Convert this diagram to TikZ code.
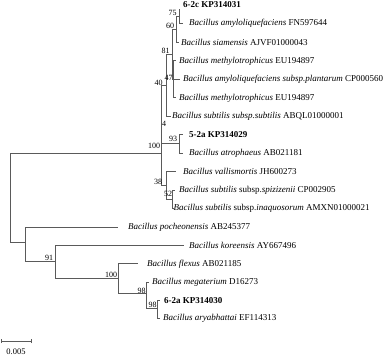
\documentclass[tikz,border=0pt]{standalone}
\usepackage{fontspec}
\setmainfont{Liberation Serif}
\definecolor{linegray}{HTML}{5A5A5A}
\begin{document}
\begin{tikzpicture}[x=1pt,y=-1pt,
  br/.style={draw=linegray, line width=0.8pt},
  lf/.style={anchor=west, inner sep=0pt, font=\fontsize{9}{10}\selectfont},
  bs/.style={inner sep=0pt, font=\fontsize{8}{9}\selectfont}]
\useasboundingbox (0,0) rectangle (387,356);
% internal nodes
\coordinate (root) at (10,197);
\coordinate (n100) at (161,153);
\coordinate (n4) at (161,114);
\coordinate (n40) at (166,85);
\coordinate (nx) at (172,54);
\coordinate (n60) at (176.5,29);
\coordinate (n75) at (179,16);
\coordinate (n47) at (173,79);
\coordinate (n93) at (179,143.5);
\coordinate (n38) at (166,185);
\coordinate (n52) at (172,199);
\coordinate (nb) at (25,242);
\coordinate (n91) at (55,261);
\coordinate (n100b) at (118,278);
\coordinate (n98a) at (146,293);
\coordinate (n98b) at (157,308);
% leaf branch ends
\coordinate (e1) at (180,9);
\coordinate (e2) at (183,23.5);
\coordinate (e3) at (178.5,42);
\coordinate (e4) at (176,60.5);
\coordinate (e5) at (180,79);
\coordinate (e6) at (176,97.5);
\coordinate (e7) at (171,116);
\coordinate (e8) at (183,134.5);
\coordinate (e9) at (183,153);
\coordinate (e10) at (176,171.5);
\coordinate (e11) at (175,190);
\coordinate (e12) at (173.5,208.5);
\coordinate (e13) at (118,227);
\coordinate (e14) at (184,245.5);
\coordinate (e15) at (138,263.5);
\coordinate (e16) at (149,282);
\coordinate (e17) at (159.5,300);
\coordinate (e18) at (160,318);
% leaf labels
\node[lf] (l1) at (183,5) {\textbf{6-2c KP314031}};
\node[lf] (l2) at (189,23.5) {\textit{Bacillus amyloliquefaciens} FN597644};
\node[lf] (l3) at (181,42.5) {\textit{Bacillus siamensis} AJVF01000043};
\node[lf] (l4) at (179,61) {\textit{Bacillus methylotrophicus} EU194897};
\node[lf] (l5) at (183,79.5) {\textit{Bacillus amyloliquefaciens subsp.plantarum} CP000560};
\node[lf] (l6) at (179,98) {\textit{Bacillus methylotrophicus} EU194897};
\node[lf] (l7) at (172,116.5) {\textit{Bacillus subtilis subsp.subtilis} ABQL01000001};
\node[lf] (l8) at (189,135) {\textbf{5-2a KP314029}};
\node[lf] (l9) at (189,153) {\textit{Bacillus atrophaeus} AB021181};
\node[lf] (l10) at (183,171.5) {\textit{Bacillus vallismortis} JH600273};
\node[lf] (l11) at (179,190) {\textit{Bacillus subtilis} subsp.\textit{spizizenii} CP002905};
\node[lf] (l12) at (173.5,208.5) {\textit{Bacillus subtilis} subsp.\textit{inaquosorum} AMXN01000021};
\node[lf] (l13) at (128,227) {\textit{Bacillus pocheonensis} AB245377};
\node[lf] (l14) at (189,245.5) {\textit{Bacillus koreensis} AY667496};
\node[lf] (l15) at (147,264) {\textit{Bacillus flexus} AB021185};
\node[lf] (l16) at (152,282) {\textit{Bacillus megaterium} D16273};
\node[lf] (l17) at (164,300.5) {\textbf{6-2a KP314030}};
\node[lf] (l18) at (163,318.5) {\textit{Bacillus aryabhattai} EF114313};
% branches
\draw[br] (root) |- (n100);
\draw[br] (root) |- (nb);
\draw[br] (n100) |- (n4);
\draw[br] (n100) |- (n38);
\draw[br] (n4) |- (n40);
\draw[br] (n4) |- (n93);
\draw[br] (n40) |- (nx);
\draw[br] (n40) |- (e7);
\draw[br] (nx) |- (n60);
\draw[br] (nx) |- (n47);
\draw[br] (n60) |- (n75);
\draw[br] (n60) |- (e3);
\draw[br] (n75) |- (e1);
\draw[br] (n75) |- (e2);
\draw[br] (n47) |- (e4);
\draw[br] (n47) |- (e5);
\draw[br] (n47) |- (e6);
\draw[br] (n93) |- (e8);
\draw[br] (n93) |- (e9);
\draw[br] (n38) |- (e10);
\draw[br] (n38) |- (n52);
\draw[br] (n52) |- (e11);
\draw[br] (n52) |- (e12);
\draw[br] (nb) |- (e13);
\draw[br] (nb) |- (n91);
\draw[br] (n91) |- (e14);
\draw[br] (n91) |- (n100b);
\draw[br] (n100b) |- (e15);
\draw[br] (n100b) |- (n98a);
\draw[br] (n98a) |- (e16);
\draw[br] (n98a) |- (n98b);
\draw[br] (n98b) |- (e17);
\draw[br] (n98b) |- (e18);
% bootstrap values
\node[bs] (b75) at (172.5,12.5) {75};
\node[bs] (b60) at (170,26) {60};
\node[bs] (b81) at (165.5,51) {81};
\node[bs] (b47) at (168.5,78) {47};
\node[bs] (b40) at (158.5,83) {40};
\node[bs] (b4) at (164,124) {4};
\node[bs] (b100) at (154,146) {100};
\node[bs] (b93) at (173,139) {93};
\node[bs] (b38) at (158,181.5) {38};
\node[bs] (b52) at (168,194) {52};
\node[bs] (b91) at (49,258) {91};
\node[bs] (b100b) at (111,275) {100};
\node[bs] (b98a) at (141.5,291) {98};
\node[bs] (b98b) at (152.5,305) {98};
% scale bar
\coordinate (s1) at (1,341);
\coordinate (s2) at (31,341);
\draw[br] (s1) -- (s2);
\draw[br] ([yshift=-2pt]s1) -- ([yshift=2pt]s1);
\draw[br] ([yshift=-2pt]s2) -- ([yshift=2pt]s2);
\node[bs, font=\fontsize{8.5}{9}\selectfont] (sl) at (16,352) {0.005};
\end{tikzpicture}
\end{document}
